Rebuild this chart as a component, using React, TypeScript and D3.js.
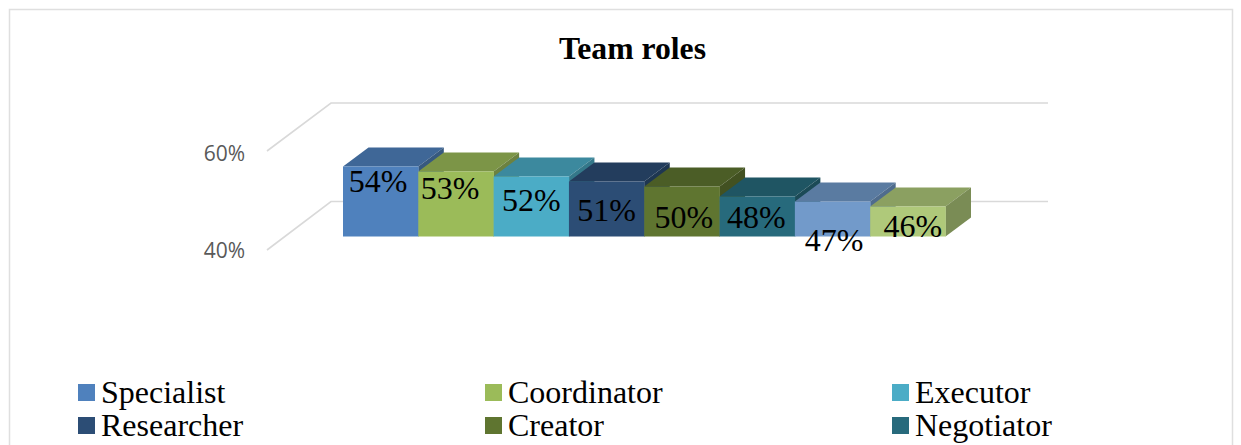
import React from "react";
import * as d3 from "d3";

const title = "Team roles";
const categories = ["Specialist", "Coordinator", "Executor", "Researcher", "Creator", "Negotiator", "Implementer", "Finisher"];
const values = [54, 53, 52, 51, 50, 48, 47, 46];
const frontColors = ["#4f81bd", "#9bbb59", "#4bacc6", "#2c4d75", "#5f7530", "#276a7c", "#729aca", "#afc97a"];
const topColors = ["#3f6797", "#7c9547", "#3c899e", "#233d5d", "#4b5d26", "#1f5563", "#5a7ba1", "#8ba061"];
const sideColors = ["#37597f", "#6c8240", "#34788a", "#1e3651", "#425121", "#1b4a56", "#4f6c8d", "#7a8c55"];
const axisTicks = [40, 60];
const legendItems = categories.slice(0, 6);

const W = 1241, H = 445;
const labelDx = [-2.7, -6, 0, 0, 2, -1, 1.5, 5];
const labelBaselines = [192, 199, 211, 221, 228, 228, 251, 237];

export default function App() {
  const x = d3.scaleBand<string>().domain(categories).range([343, 945.5]).padding(0);
  const y = d3.scaleLinear().domain([40, 60]).range([236.5, 136.5]);
  const wallY = d3.scaleLinear().domain([40, 60]).range([201.5, 103]);
  const floorY = d3.scaleLinear().domain([40, 60]).range([250, 151]);
  const tickY = d3.scaleLinear().domain([40, 60]).range([258, 161]);
  const depthX = 25.5, depthY = 19;
  const bw = x.bandwidth();
  const pct = (v: number) => d3.format(".0%")(v / 100);
  const order = categories.map((_, i) => i);

  return (
    <svg width={W} height={H} viewBox={`0 0 ${W} ${H}`} style={{ position: "absolute", left: 0, top: 0, background: "#fff" }}>
      <path d="M9.5 445V9.5H1232.5V445" fill="none" stroke="#dfdfdf" strokeWidth={1.5} />
      <text x={632.5} y={58.5} textAnchor="middle" fontFamily="'Liberation Serif'" fontWeight={700} fontSize={31.7} fill="#000">{title}</text>

      {axisTicks.map((t) => (
        <g key={t}>
          <path d={`M267 ${floorY(t)}L331 ${wallY(t)}H1048`} fill="none" stroke="#d9d9d9" strokeWidth={1.6} />
          <text x={245} y={tickY(t)} textAnchor="end" fontFamily="'Open Sans'" fontSize={21} fill="#595959">{pct(t)}</text>
        </g>
      ))}

      {order.map((i) => {
        const c = categories[i];
        const x0 = x(c)!, top = y(values[i]), base = y(40);
        return (
          <g key={c}>
            <path d={`M${x0} ${top}L${x0 + depthX} ${top - depthY}H${x0 + bw + depthX}L${x0 + bw} ${top}Z`} fill={topColors[i]} />
            <path d={`M${x0 + bw} ${top}L${x0 + bw + depthX} ${top - depthY}V${base - depthY}L${x0 + bw} ${base}Z`} fill={sideColors[i]} />
          </g>
        );
      })}
      {order.map((i) => {
        const c = categories[i];
        return <rect key={c} x={x(c)} y={y(values[i])} width={bw + 0.3} height={y(40) - y(values[i])} fill={frontColors[i]} />;
      })}
      {order.map((i) => {
        const c = categories[i];
        return (
          <text key={c} x={x(c)! + bw / 2 + labelDx[i]} y={labelBaselines[i]} textAnchor="middle" fontFamily="'Liberation Serif'" fontSize={32} fill="#000">
            {pct(values[i])}
          </text>
        );
      })}

      {legendItems.map((name, i) => {
        const col = i % 3, row = Math.floor(i / 3);
        const lx = d3.scaleLinear().domain([0, 2]).range([78, 892])(col);
        const ly = d3.scaleLinear().domain([0, 1]).range([384, 417])(row);
        return (
          <g key={name}>
            <rect x={lx} y={ly} width={17} height={17} fill={frontColors[i]} />
            <text x={lx + 23} y={ly + 19} fontFamily="'Liberation Serif'" fontSize={32} fill="#000">{name}</text>
          </g>
        );
      })}
    </svg>
  );
}
